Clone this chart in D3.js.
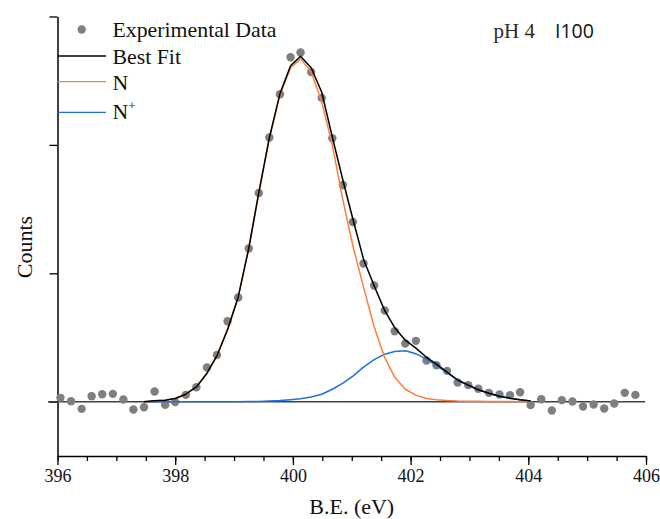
<!DOCTYPE html>
<html>
<head>
<meta charset="utf-8">
<script src="https://cdn.jsdelivr.net/npm/d3@7"></script>
<style>
  body { margin: 0; background: #fff; }
  svg { display: block; }
</style>
</head>
<body>
<svg id="chart" width="660" height="519"></svg>
<script>
// Binding energies of the measured points (eV)
var energy = [396.05, 396.23, 396.41, 396.58, 396.76, 396.94, 397.12, 397.29, 397.47, 397.65,
    397.83, 398.00, 398.18, 398.36, 398.54, 398.71, 398.89, 399.07, 399.25, 399.42,
    399.60, 399.78, 399.96, 400.13, 400.31, 400.49, 400.67, 400.85, 401.02, 401.20,
    401.38, 401.56, 401.73, 401.91, 402.09, 402.27, 402.44, 402.62, 402.80, 402.98,
    403.15, 403.33, 403.51, 403.69, 403.86, 404.04, 404.22, 404.40, 404.57, 404.75,
    404.93, 405.11, 405.29, 405.46, 405.64, 405.82];

// Measured counts (arbitrary units, baseline removed)
var counts = [30, 4, -56, 43, 58, 61, 17, -61, -43, 79,
    -25, -2, 53, 113, 266, 364, 627, 811, 1193, 1626,
    2058, 2395, 2683, 2720, 2568, 2366, 2052, 1688, 1400, 1076,
    905, 710, 549, 453, 474, 321, 284, 240, 150, 129,
    101, 69, 56, 51, 74, -27, 19, -69, 12, 2,
    -37, -22, -53, -14, 69, 53];

// Fit curves are evaluated on the same energies, 397.47 - 404.04 eV
var fitEnergy = energy.slice(8, 46);

var bestFit = [0, 8, 12, 25, 58, 115, 222, 358, 562, 814,
    1195, 1626, 2056, 2399, 2617, 2691, 2601, 2410, 2060, 1725,
    1421, 1110, 903, 709, 576, 479, 417, 346, 292, 230,
    169, 129, 93, 66, 43, 27, 15, 6];

var nComp = [0, 8, 12, 25, 58, 115, 222, 358, 562, 814,
    1195, 1626, 2051, 2390, 2600, 2670, 2570, 2335, 1998, 1569,
    1211, 892, 584, 343, 191, 97, 51, 25, 15, 9,
    5, 4, 3, 2, 1, 1, 0, 0];

var nPlusComp = [0, 0, 0, 0, 0, 0, 0, 0, 0, 0,
    1, 2, 5, 9, 16, 23, 37, 58, 97, 144,
    199, 269, 327, 370, 391, 396, 374, 331, 280, 226,
    167, 129, 93, 66, 43, 27, 15, 6];

var xTicks = [396, 398, 400, 402, 404, 406];
var yTicks = [0, 1000, 2000, 3000];

var svg = d3.select("#chart");

var serif = "'Liberation Serif', 'Times New Roman', serif";
var dotColor = "#7f7f7f";
var fitColor = "#000000";
var nColor = "#ff7d3c";
var nPlusColor = "#1f6fe0";

var xScale = d3.scaleLinear()
    .domain([396, 406])
    .range([57.5, 646]);

var yScale = d3.scaleLinear()
    .domain([-423, 3000])
    .range([456, 16.5]);

// x axis with minor ticks every 0.5 eV
var xMinor = d3.range(396, 406.01, 0.5);
var xAxisG = svg.append("g")
    .attr("transform", "translate(0," + yScale.range()[0] + ")");

xAxisG.append("g")
    .call(d3.axisBottom(xScale).tickValues(xMinor).tickSize(5).tickFormat(""))
    .call(g => g.select(".domain").remove());

xAxisG.append("g")
    .call(d3.axisBottom(xScale).tickValues(xTicks).tickSize(9).tickSizeOuter(0).tickPadding(4).tickFormat(d3.format("d")))
    .call(g => g.select(".domain").attr("stroke-width", 1.5));

xAxisG.selectAll("line").attr("stroke", "#000").attr("stroke-width", 1.3);
xAxisG.selectAll("text")
    .attr("font-family", serif)
    .attr("font-size", "18px")
    .attr("fill", "#111");

// y axis, ticks only
var yAxisG = svg.append("g")
    .attr("transform", "translate(" + xScale.range()[0] + ",0)")
    .call(d3.axisLeft(yScale).tickValues(yTicks).tickSize(8).tickSizeOuter(0).tickFormat(""));
yAxisG.select(".domain").attr("stroke-width", 1.5);
yAxisG.selectAll("line").attr("stroke-width", 1.3);

// zero line
svg.append("line")
    .attr("x1", 48)
    .attr("x2", xScale(406) - 1)
    .attr("y1", yScale(0))
    .attr("y2", yScale(0))
    .attr("stroke", "#404040")
    .attr("stroke-width", 1.6);

// experimental points
svg.append("g")
    .selectAll("circle")
    .data(energy.map((e, i) => ({ e: e, c: counts[i] })))
    .enter()
    .append("circle")
    .attr("cx", d => xScale(d.e))
    .attr("cy", d => yScale(d.c))
    .attr("r", 4.2)
    .attr("fill", dotColor);

var line = d3.line()
    .x(d => xScale(d[0]))
    .y(d => yScale(d[1]));

var curves = [
    { values: nPlusComp, color: nPlusColor },
    { values: nComp, color: nColor },
    { values: bestFit, color: fitColor }
];

curves.forEach(function (c) {
    svg.append("path")
        .datum(fitEnergy.map((e, i) => [e, c.values[i]]))
        .attr("d", line)
        .attr("fill", "none")
        .attr("stroke", c.color)
        .attr("stroke-width", 1.5)
        .attr("stroke-linejoin", "round");
});

// Legend
var legend = svg.append("g");
var legendX = 57.5, legendLineEnd = 106, legendText = 112.5;

legend.append("circle")
    .attr("cx", 81.7)
    .attr("cy", 29.5)
    .attr("r", 4.2)
    .attr("fill", dotColor);

var legendLines = [
    { y: 56, color: fitColor },
    { y: 81.7, color: nColor },
    { y: 112.3, color: nPlusColor }
];
legendLines.forEach(function (l) {
    legend.append("line")
        .attr("x1", legendX)
        .attr("x2", legendLineEnd)
        .attr("y1", l.y)
        .attr("y2", l.y)
        .attr("stroke", l.color)
        .attr("stroke-width", 1.3);
});

var legendLabels = [
    { text: "Experimental Data", y: 36.5 },
    { text: "Best Fit", y: 63.5 },
    { text: "N", y: 89.5 }
];
legendLabels.forEach(function (l) {
    legend.append("text")
        .attr("x", legendText)
        .attr("y", l.y)
        .attr("font-family", serif)
        .attr("font-size", "21.8px")
        .attr("fill", "#111")
        .text(l.text);
});

var nPlus = legend.append("text")
    .attr("x", legendText)
    .attr("y", 118.5)
    .attr("font-family", serif)
    .attr("font-size", "21.8px")
    .attr("fill", "#111");
nPlus.append("tspan").text("N");
nPlus.append("tspan")
    .attr("font-size", "13px")
    .attr("dy", -9)
    .text("+");

// annotations
svg.append("text")
    .attr("x", 493.5)
    .attr("y", 38.3)
    .attr("font-family", serif)
    .attr("font-size", "21px")
    .attr("fill", "#2e2a26")
    .text("pH 4");

svg.append("text")
    .attr("x", 555)
    .attr("y", 38.3)
    .attr("font-family", "'Open Sans', sans-serif")
    .attr("font-size", "19.5px")
    .attr("fill", "#111")
    .text("I100");

// axis titles
svg.append("text")
    .attr("x", (xScale.range()[0] + xScale.range()[1]) / 2)
    .attr("y", 514)
    .attr("text-anchor", "middle")
    .attr("font-family", serif)
    .attr("font-size", "22px")
    .attr("fill", "#111")
    .text("B.E. (eV)");

svg.append("text")
    .attr("transform", "translate(32,247) rotate(-90)")
    .attr("text-anchor", "middle")
    .attr("font-family", serif)
    .attr("font-size", "22px")
    .attr("fill", "#111")
    .text("Counts");
</script>
</body>
</html>
